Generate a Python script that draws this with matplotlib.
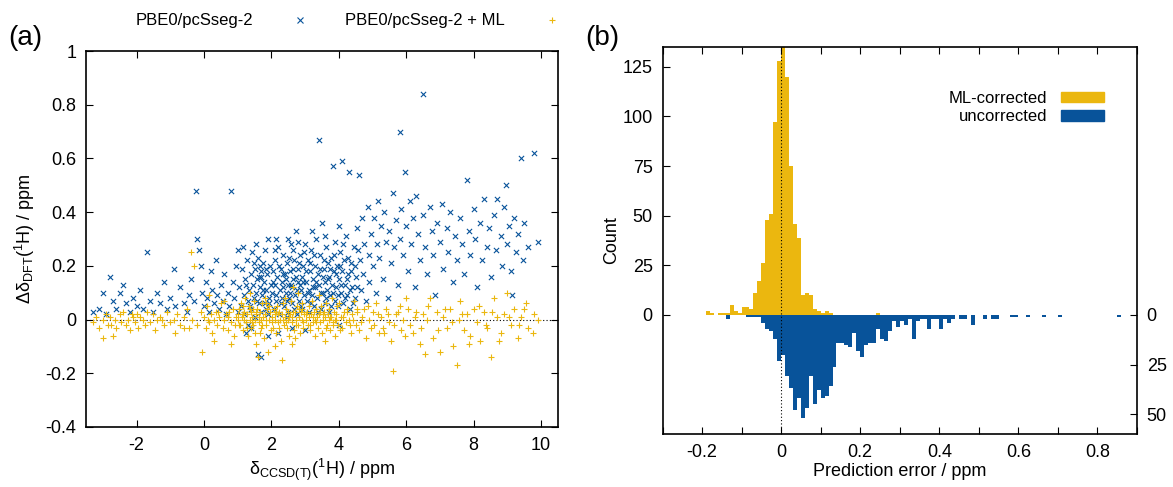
import matplotlib
matplotlib.use("Agg")
import matplotlib.pyplot as plt
from matplotlib.lines import Line2D
from matplotlib.patches import Patch
import numpy as np

plt.rcParams['font.family'] = ['Liberation Sans', 'DejaVu Sans']
plt.rcParams['mathtext.fontset'] = 'custom'
plt.rcParams['mathtext.rm'] = 'Liberation Sans'
plt.rcParams['mathtext.it'] = 'Liberation Sans:italic'

YELLOW = '#EBB70F'
BLUE = '#08539A'

# ---------------- panel (a) data: (delta_CCSD(T), delta_DFT error) ----------------
blue_left = [(-3.3,0.03),(-3.1,0.04),(-3.0,0.10),(-2.9,0.02),(-2.8,0.16),(-2.7,0.07),(-2.6,0.04),(-2.5,0.10),
             (-2.4,0.13),(-2.3,0.06),(-2.2,0.03),(-2.1,0.08),(-2.0,0.05),(-1.9,0.11),(-1.8,0.04),(-1.7,0.25),
             (-1.6,0.07),(-1.5,0.03),(-1.4,0.10),(-1.3,0.06),(-1.2,0.14),(-1.1,0.04),(-1.0,0.08),(-0.9,0.19),
             (-0.85,0.05),(-0.7,0.12),(-0.6,0.06),(-0.5,0.03),(-0.45,0.09),(-0.4,0.15),(-0.3,0.07),(-0.25,0.48),
             (-0.2,0.30),(-0.15,0.26),(-0.1,0.20),(-0.05,0.10),(0.0,0.05),(0.05,0.14),(0.1,0.08),(0.15,0.03),
             (0.2,0.18),(0.25,0.11),(0.3,0.06),(0.35,0.22),(0.4,0.09),(0.45,0.04),(0.5,0.13),(0.55,0.07),
             (0.6,0.17),(0.65,0.02),(0.7,0.10),(0.75,0.05),(0.8,0.48),(0.85,0.14),(0.9,0.08),(0.95,0.20),
             (1.0,0.26),(1.0,0.03)]
blue_12 = [(1.05,0.12),(1.1,0.05),(1.12,0.19),(1.18,0.09),(1.2,0.02),(1.22,0.15),(1.28,0.22),(1.3,0.07),
           (1.33,0.11),(1.38,0.17),(1.4,0.04),(1.42,0.25),(1.45,0.13),(1.48,0.08),(1.5,0.19),(1.52,0.01),
           (1.55,0.10),(1.58,0.15),(1.6,0.23),(1.62,0.06),(1.65,0.12),(1.68,0.18),(1.7,0.03),(1.72,0.09),
           (1.75,0.21),(1.78,0.14),(1.8,0.06),(1.82,0.26),(1.85,0.11),(1.88,0.17),(1.9,0.02),(1.92,0.08),
           (1.95,0.20),(1.98,0.13),(1.3,-0.02),(1.55,0.28),(1.7,0.16),(1.85,0.04),(1.15,0.27),(1.65,0.20)]
blue_neg = [(1.25,-0.05),(1.6,-0.13),(1.7,-0.14),(1.9,-0.06),(2.2,-0.05),(2.6,-0.03),(3.0,-0.04),(4.0,-0.02),(1.4,-0.03)]
blue_23 = [(2.02,0.10),(2.05,0.18),(2.08,0.04),(2.1,0.22),(2.12,0.13),(2.15,0.07),(2.18,0.16),(2.2,0.27),
           (2.22,0.02),(2.25,0.11),(2.28,0.19),(2.3,0.08),(2.32,0.14),(2.35,0.24),(2.38,0.05),(2.4,0.17),
           (2.42,0.10),(2.45,0.21),(2.48,0.13),(2.5,0.03),(2.52,0.08),(2.55,0.18),(2.58,0.28),(2.6,0.12),
           (2.62,0.06),(2.65,0.15),(2.68,0.22),(2.7,0.09),(2.72,0.33),(2.75,0.02),(2.78,0.14),(2.8,0.19),
           (2.82,0.07),(2.85,0.24),(2.88,0.11),(2.9,0.16),(2.92,0.04),(2.95,0.20),(2.98,0.09),(2.15,0.30),
           (2.45,0.01),(2.65,0.26),(2.35,0.12),(2.85,0.13),(2.55,0.10)]
blue_345 = [(3.02,0.14),(3.05,0.07),(3.08,0.22),(3.1,0.11),(3.12,0.03),(3.15,0.18),(3.18,0.26),(3.2,0.09),
            (3.22,0.15),(3.25,0.05),(3.28,0.20),(3.3,0.12),(3.32,0.30),(3.35,0.08),(3.38,0.17),(3.4,0.67),
            (3.42,0.13),(3.45,0.24),(3.48,0.04),(3.5,0.36),(3.52,0.10),(3.55,0.19),(3.58,0.14),(3.6,0.06),
            (3.62,0.27),(3.65,0.11),(3.68,0.21),(3.7,0.16),(3.72,0.03),(3.75,0.09),(3.78,0.23),(3.8,0.13),
            (3.82,0.57),(3.85,0.18),(3.88,0.07),(3.9,0.29),(3.92,0.12),(3.95,0.20),(3.98,0.05),(4.0,0.15),
            (4.02,0.25),(4.05,0.10),(4.08,0.59),(4.1,0.18),(4.12,0.06),(4.15,0.22),(4.18,0.13),(4.2,0.31),
            (4.25,0.09),(4.28,0.17),(4.3,0.55),(4.32,0.04),(4.35,0.21),(4.4,0.12),(4.45,0.27),(4.48,0.08),(4.5,0.16)]
blue_dense = [(1.24,0.13),(1.36,0.05),(1.47,0.21),(1.57,0.07),(1.63,0.16),(1.74,0.11),(1.83,0.19),(1.94,0.06),
              (2.04,0.14),(2.13,0.09),(2.23,0.20),(2.27,0.06),(2.33,0.17),(2.43,0.15),(2.47,0.07),(2.53,0.23),
              (2.57,0.13),(2.63,0.19),(2.67,0.04),(2.73,0.16),(2.77,0.11),(2.83,0.21),(2.87,0.05),(2.93,0.14),
              (2.97,0.25),(3.03,0.18),(3.07,0.10),(3.13,0.21),(3.17,0.06),(3.23,0.12),(3.27,0.24),(3.33,0.14),
              (3.37,0.03),(3.43,0.19),(3.47,0.10),(3.53,0.16),(3.57,0.22),(3.63,0.08),(3.67,0.15),(3.73,0.19),
              (3.77,0.05),(3.83,0.10),(3.87,0.24),(3.93,0.17),(3.97,0.09),(4.03,0.20),(4.07,0.13),(4.13,0.28),
              (4.17,0.08),(4.23,0.15),(4.27,0.23),(4.33,0.11),(4.37,0.18),(4.43,0.06),(4.47,0.20),(4.53,0.12),
              (4.58,0.26),(2.1,0.26),(2.5,0.30),(3.0,0.28),(3.6,0.31),(4.0,0.35),(3.2,0.33),(2.8,0.29),(1.9,0.30)]
blue_right = [(4.55,0.34),(4.6,0.54),(4.62,0.22),(4.65,0.11),(4.7,0.38),(4.72,0.17),(4.75,0.28),(4.8,0.07),
              (4.85,0.42),(4.88,0.24),(4.9,0.14),(4.95,0.32),(5.0,0.20),(5.05,0.38),(5.1,0.10),(5.12,0.28),
              (5.15,0.44),(5.2,0.23),(5.25,0.35),(5.3,0.15),(5.35,0.40),(5.4,0.29),(5.45,0.08),(5.5,0.33),
              (5.55,0.21),(5.6,0.47),(5.65,0.27),(5.7,0.37),(5.75,0.13),(5.8,0.70),(5.82,0.30),(5.85,0.41),
              (5.9,0.24),(5.95,0.55),(6.0,0.35),(6.05,0.18),(6.1,0.44),(6.15,0.28),(6.2,0.38),(6.25,0.12),
              (6.3,0.46),(6.35,0.32),(6.4,0.22),(6.5,0.84),(6.5,0.39),(6.55,0.27),(6.6,0.17),(6.7,0.42),
              (6.75,0.33),(6.8,0.24),(6.85,0.09),(6.9,0.36),(7.0,0.29),(7.05,0.43),(7.1,0.19),(7.2,0.34),
              (7.25,0.25),(7.3,0.40),(7.4,0.14),(7.45,0.31),(7.5,0.22),(7.6,0.38),(7.65,0.28),(7.7,0.17),
              (7.8,0.52),(7.85,0.33),(7.9,0.24),(8.0,0.41),(8.05,0.30),(8.1,0.12),(8.2,0.36),(8.25,0.22),
              (8.3,0.45),(8.4,0.27),(8.45,0.34),(8.5,0.16),(8.6,0.39),(8.65,0.26),(8.7,0.45),(8.8,0.31),
              (8.85,0.20),(8.9,0.42),(9.0,0.28),(9.05,0.35),(9.1,0.18),(9.2,0.38),(9.25,0.25),(9.3,0.32),
              (9.4,0.60),(9.45,0.22),(9.5,0.36),(9.6,0.27),(9.8,0.62),(9.9,0.29),(9.15,0.09),(8.95,0.50)]

ml_left = [(-3.3,-0.01),(-3.2,0.01),(-3.1,-0.03),(-3.0,0.00),(-3.0,-0.07),(-2.9,0.02),(-2.85,-0.02),(-2.8,0.01),
           (-2.7,-0.06),(-2.65,0.00),(-2.6,-0.03),(-2.5,0.02),(-2.45,-0.01),(-2.4,0.03),(-2.3,-0.02),(-2.25,0.00),
           (-2.2,-0.04),(-2.1,0.01),(-2.05,-0.01),(-2.0,0.02),(-1.95,-0.03),(-1.9,0.01),(-1.8,0.00),(-1.75,-0.02),
           (-1.7,0.03),(-1.6,-0.01),(-1.5,0.02),(-1.45,-0.04),(-1.4,0.00),(-1.3,0.01),(-1.2,-0.02),(-1.1,0.03),
           (-1.0,-0.01),(-0.9,0.00),(-0.85,-0.05),(-0.8,0.02),(-0.7,-0.02),(-0.6,0.01),(-0.5,0.04),(-0.45,-0.03),
           (-0.4,0.25),(-0.35,0.00),(-0.3,0.20),(-0.2,-0.02),(-0.1,0.03),(-0.05,-0.12)]
ml_01 = [(0.0,0.01),(0.05,-0.03),(0.1,0.05),(0.15,-0.01),(0.2,0.02),(0.25,-0.05),(0.3,0.00),(0.35,0.03),
         (0.4,-0.02),(0.45,0.01),(0.5,0.06),(0.55,-0.03),(0.6,0.00),(0.65,0.02),(0.7,-0.04),(0.75,0.03),
         (0.8,-0.01),(0.85,0.04),(0.9,-0.06),(0.95,0.01),(1.0,0.02),(0.3,-0.08),(0.6,0.07),(0.15,0.09),(0.8,-0.09)]
ml_12 = [(1.02,0.00),(1.05,0.04),(1.08,-0.02),(1.1,0.06),(1.12,0.01),(1.15,-0.04),(1.18,0.03),(1.2,0.00),
         (1.22,0.08),(1.25,-0.01),(1.28,0.02),(1.3,-0.06),(1.32,0.05),(1.35,0.00),(1.38,-0.03),(1.4,0.03),
         (1.42,0.01),(1.45,-0.02),(1.48,0.07),(1.5,0.00),(1.52,-0.05),(1.55,0.02),(1.58,0.04),(1.6,-0.14),
         (1.62,-0.01),(1.65,0.03),(1.68,0.00),(1.7,-0.03),(1.72,0.06),(1.75,0.01),(1.78,-0.07),(1.8,0.08),
         (1.82,0.02),(1.85,-0.02),(1.88,0.04),(1.9,-0.12),(1.92,0.00),(1.95,0.03),(1.98,-0.04),(1.35,0.10),
         (1.55,-0.09),(1.15,0.05),(1.45,0.04),(1.65,-0.05),(1.85,0.06)]
ml_23 = [(2.02,0.01),(2.05,-0.03),(2.08,0.04),(2.1,0.00),(2.12,0.02),(2.15,-0.05),(2.18,0.05),(2.2,-0.01),
         (2.22,0.03),(2.25,0.00),(2.28,-0.08),(2.3,-0.15),(2.32,0.02),(2.35,0.06),(2.38,-0.02),(2.4,0.01),
         (2.42,0.04),(2.45,-0.03),(2.48,0.00),(2.5,0.03),(2.52,-0.06),(2.55,0.02),(2.58,0.07),(2.6,-0.01),
         (2.62,0.01),(2.65,0.12),(2.68,-0.04),(2.7,0.03),(2.72,0.00),(2.75,0.05),(2.78,-0.02),(2.8,0.10),
         (2.82,0.01),(2.85,-0.05),(2.88,0.03),(2.9,0.00),(2.92,0.06),(2.95,-0.03),(2.98,0.02),(2.1,-0.10),
         (2.4,0.08),(2.6,-0.09),(2.9,0.04),(2.2,0.02),(2.7,-0.07)]
ml_345 = [(3.02,0.00),(3.05,0.03),(3.08,-0.02),(3.1,0.05),(3.12,0.01),(3.15,-0.04),(3.18,0.02),(3.2,0.07),
          (3.22,-0.01),(3.25,0.03),(3.28,0.00),(3.3,-0.06),(3.32,0.04),(3.35,0.01),(3.38,-0.03),(3.4,0.09),
          (3.42,0.02),(3.45,-0.01),(3.48,0.05),(3.5,-0.05),(3.52,0.00),(3.55,0.03),(3.58,-0.08),(3.6,0.01),
          (3.62,0.06),(3.65,-0.02),(3.68,0.02),(3.7,0.00),(3.72,0.04),(3.75,-0.04),(3.78,0.01),(3.8,0.08),
          (3.82,-0.01),(3.85,0.03),(3.88,0.00),(3.9,-0.06),(3.92,0.02),(3.95,0.05),(3.98,-0.02),(4.0,0.06),
          (4.05,0.01),(4.1,-0.03),(4.15,0.03),(4.2,-0.01),(4.25,0.04),(4.3,0.00),(4.35,-0.05),(4.4,0.02),
          (4.45,0.07),(4.5,-0.02)]
ml_dense = [(1.03,-0.02),(1.17,0.02),(1.27,-0.03),(1.37,0.04),(1.43,-0.01),(1.53,0.03),(1.63,0.01),(1.73,-0.02),
            (1.83,0.00),(1.93,0.05),(2.03,-0.01),(2.13,0.03),(2.23,-0.03),(2.33,0.00),(2.43,-0.01),(2.53,0.01),
            (2.63,0.03),(2.73,-0.02),(2.83,0.04),(2.93,-0.01),(3.03,0.02),(3.13,-0.02),(3.23,0.01),(3.33,-0.01),
            (3.43,0.03),(3.53,0.02),(3.63,-0.03),(3.73,0.01),(3.83,-0.02),(3.93,0.00),(4.03,-0.04),(4.13,0.01),
            (4.23,0.03),(4.33,-0.02),(4.43,0.00),(4.53,0.04),(4.65,-0.01),(4.75,0.04),(4.95,-0.03),(5.15,0.02),
            (5.35,-0.05),(5.45,0.02),(5.65,-0.02),(5.75,0.03),(5.95,-0.06),(6.05,0.04),(6.25,0.01),(6.45,-0.03),
            (6.65,0.05),(6.95,-0.04),(7.15,0.04),(7.35,-0.01),(7.65,0.02),(7.85,-0.09),(8.15,0.05),(8.35,-0.02),
            (8.55,0.03),(8.75,-0.08),(9.05,0.01),(9.35,-0.02),(9.55,0.06),(9.75,-0.05),(0.12,0.00),(0.42,0.03),
            (0.72,0.01),(0.92,-0.02),(-0.6,-0.03),(-1.25,0.00),(-2.15,0.02),(-2.75,-0.02)]
ml_right = [(4.55,0.03),(4.6,-0.04),(4.7,0.01),(4.8,-0.07),(4.85,0.05),(4.9,0.00),(5.0,0.03),(5.05,-0.02),
            (5.1,0.06),(5.2,-0.05),(5.25,0.01),(5.3,-0.03),(5.4,0.04),(5.5,-0.01),(5.55,-0.08),(5.6,-0.19),
            (5.7,0.02),(5.8,0.05),(5.85,-0.04),(5.9,0.00),(6.0,0.08),(6.1,-0.02),(6.2,-0.05),(6.3,0.03),
            (6.4,-0.09),(6.5,0.02),(6.55,-0.13),(6.6,0.00),(6.7,0.08),(6.8,-0.07),(6.9,0.03),(7.0,-0.12),
            (7.1,0.01),(7.2,-0.03),(7.3,0.04),(7.4,-0.10),(7.5,-0.17),(7.55,0.00),(7.6,0.07),(7.7,-0.04),
            (7.8,0.02),(7.9,-0.06),(8.0,0.04),(8.1,-0.01),(8.2,-0.08),(8.3,0.03),(8.4,-0.03),(8.5,-0.14),
            (8.6,0.08),(8.7,0.01),(8.8,-0.05),(8.9,0.02),(9.0,0.10),(9.1,-0.02),(9.2,0.04),(9.3,-0.07),
            (9.4,0.01),(9.5,0.04),(9.6,-0.03),(9.8,0.02),(9.9,0.00)]

# ---------------- panel (b) data: histogram counts, bins of 0.01 ppm starting at -0.20 ----------------
bin_start = -0.20
bin_width = 0.01
ml_counts = [0,2,1,0,1,1,1,5,2,1,4,4,3,11,17,26,48,51,97,128,
             140,120,75,46,39,10,11,10,3,2,1,2,1,0,0,0,0,0,0,0,0,0,0,0,1]
unc_counts = [0,0,0,0,0,0,2,0,0,0,0,1,1,1,1,4,7,8,12,23,
              20,31,37,48,42,52,47,31,45,38,42,41,36,26,14,14,15,16,9,18,
              21,15,14,14,7,12,13,8,3,6,3,5,2,12,3,2,2,7,2,2,
              7,2,4,2,0,2,2,0,5,0,0,2,0,2,2,0,0,0,1,1,
              0,0,1,0,0,0,1,0,0,0,1,0,0,0,0,0,0,0,0,0,
              0,0,0,0,0,1]

blue_pts = np.array(blue_left + blue_12 + blue_neg + blue_23 + blue_345 + blue_dense + blue_right)
ml_pts = np.array(ml_left + ml_01 + ml_12 + ml_23 + ml_345 + ml_dense + ml_right)

fig = plt.figure(figsize=(11.73, 4.87), dpi=100)

# ---- (a) ----
axa = fig.add_axes([86/1173, 1-427/487, (558-86)/1173, (427-51)/487])
axa.axhline(0, color='black', lw=0.8, ls=(0, (1, 2)), zorder=1)
axa.scatter(blue_pts[:, 0], blue_pts[:, 1], marker='x', s=14, c=BLUE, linewidths=0.8, zorder=2)
axa.scatter(ml_pts[:, 0], ml_pts[:, 1], marker='+', s=18, c=YELLOW, linewidths=0.8, zorder=3)
axa.set_xlim(-3.5, 10.5)
axa.set_ylim(-0.4, 1.0)
axa.set_xticks([-2, 0, 2, 4, 6, 8, 10])
axa.set_yticks([-0.4, -0.2, 0, 0.2, 0.4, 0.6, 0.8, 1.0])
axa.set_yticklabels(['-0.4', '-0.2', '0', '0.2', '0.4', '0.6', '0.8', '1'])
axa.set_xticklabels(['-2', '0', '2', '4', '6', '8', '10'])
axa.tick_params(direction='in', length=5, width=0.8, top=True, right=True, labelsize=13, pad=7)
axa.set_xlabel('δ$_{\\mathrm{CCSD(T)}}$($^{1}$H) / ppm', fontsize=13, labelpad=2)
axa.set_ylabel('Δδ$_{\\mathrm{DFT}}$($^{1}$H) / ppm', fontsize=13, labelpad=6)
for s in axa.spines.values():
    s.set_linewidth(1.2)

handles_a = [Line2D([], [], ls='none', marker='x', color=BLUE, markersize=4, mew=0.8),
             Line2D([], [], ls='none', marker='+', color=YELLOW, markersize=5, mew=0.8)]
fig.legend(handles_a, ['PBE0/pcSseg-2', 'PBE0/pcSseg-2 + ML'], loc='center left',
           bbox_to_anchor=(121/1173, 1-21/487), ncol=2, frameon=False, markerfirst=False,
           fontsize=12, handlelength=1.5, columnspacing=1.95, handletextpad=2.05)

fig.text(8/1173, 1-38/487, '(a)', fontsize=20, va='center', ha='left')
fig.text(585/1173, 1-38/487, '(b)', fontsize=20, va='center', ha='left')

# ---- (b) ----
axb = fig.add_axes([662.5/1173, 1-434/487, (1137-662.5)/1173, (434-47)/487])
ml_edges = bin_start + bin_width*np.arange(len(ml_counts))
unc_edges = bin_start + bin_width*np.arange(len(unc_counts))
axb.bar(ml_edges, ml_counts, width=bin_width, align='edge', color=YELLOW, lw=0)
axb.bar(unc_edges, -np.array(unc_counts), width=bin_width, align='edge', color=BLUE, lw=0)
axb.axvline(0, color='black', lw=0.8, ls=(0, (1, 2)), zorder=5)
axb.set_xlim(-0.3, 0.9)
axb.set_ylim(-60, 135)
axb.set_xticks([-0.2, 0, 0.2, 0.4, 0.6, 0.8])
axb.set_xticklabels(['-0.2', '0', '0.2', '0.4', '0.6', '0.8'])
axb.set_xticks(np.arange(-0.3, 0.91, 0.1), minor=True)
axb.set_yticks([0, 25, 50, 75, 100, 125])
axb.tick_params(which='both', direction='in', length=5, width=0.8, top=True, labelsize=13, pad=7)
axb.tick_params(axis='y', right=False)
axb.set_xlabel('Prediction error / ppm', fontsize=13, labelpad=2)
axb.set_ylabel('Count', fontsize=13, labelpad=2)
for s in axb.spines.values():
    s.set_linewidth(1.2)
axr = axb.twinx()
axr.set_ylim(-60, 135)
axr.set_yticks([0, -25, -50])
axr.set_yticklabels(['0', '25', '50'])
axr.tick_params(direction='in', length=5, width=0.8, labelsize=13, pad=7)
for s in axr.spines.values():
    s.set_visible(False)

handles_b = [Patch(color=YELLOW), Patch(color=BLUE)]
axb.legend(handles_b, ['ML-corrected', 'uncorrected'], loc='upper right',
           bbox_to_anchor=(1119/1173, 1-76/487), bbox_transform=fig.transFigure,
           frameon=False, markerfirst=False, fontsize=12, handlelength=2.6, handleheight=0.6,
           labelspacing=0.2, handletextpad=0.8)

fig.savefig('out.png', dpi=100)
